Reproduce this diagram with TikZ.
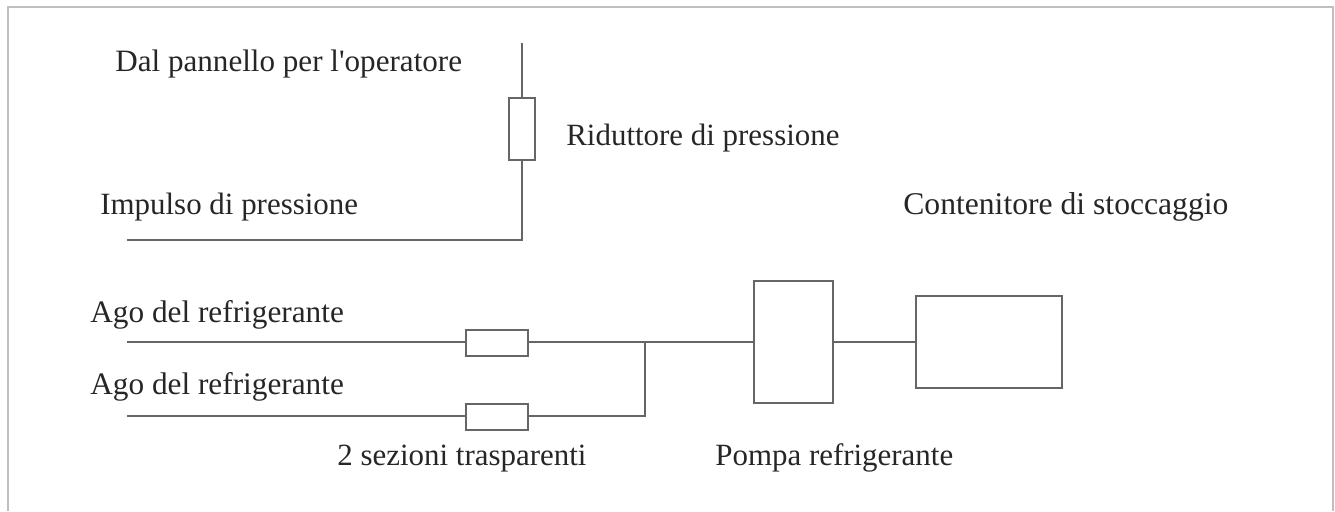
\documentclass[tikz,border=0pt]{standalone}
\usepackage{fontspec}
\setmainfont{Liberation Serif}
\usetikzlibrary{calc,positioning}
\tikzset{
  coolBox/.style={draw=black!60, fill=white, line width=0.6pt, inner sep=0pt},
  coolLine/.style={draw=black!60, line width=0.6pt},
  coolLabel/.style={font=\fontsize{17.6}{20}\selectfont, text=black!85, inner sep=0pt, anchor=west},
  coolFrame/.style={draw=black!25, line width=1.2pt}
}
\begin{document}
\begin{tikzpicture}[x=0.2mm, y=-0.2mm]
      \useasboundingbox (0,0) rectangle (1335,511);
      \draw[coolFrame] (8,511) -- (8,7) -- (1333,7) -- (1333,511);
      % free ends of the lines
      \coordinate (panelIn) at (522,43);
      \coordinate (pulseIn) at (127,240);
      \coordinate (corner) at (522,240);
      \coordinate (needleA) at (127,342);
      \coordinate (needleB) at (127,416);
      \coordinate (join) at (645,342);
      \coordinate (joinLow) at (645,416);
      % boxes
      \node[coolBox, minimum width=5.2mm, minimum height=12.4mm] (reducer) at (522,129) {};
      \node[coolBox, minimum width=12.4mm, minimum height=5.2mm] (clearA) at (497,343) {};
      \node[coolBox, minimum width=12.4mm, minimum height=5.2mm] (clearB) at (497,417) {};
      \node[coolBox, minimum width=15.8mm, minimum height=24.4mm] (pump) at (793.5,342) {};
      \node[coolBox, minimum width=29.2mm, minimum height=18.4mm] (tank) at (989,342) {};
      % labels
      \node[coolLabel, font=\fontsize{17.7}{20}\selectfont] (panelText) at (115,64) {Dal pannello per l\textquotesingle operatore};
      \node[coolLabel] (reducerText) at (566,138) {Riduttore di pressione};
      \node[coolLabel] (pulseText) at (100,207) {Impulso di pressione};
      \node[coolLabel, font=\fontsize{18}{20}\selectfont] (tankText) at (903,207) {Contenitore di stoccaggio};
      \node[coolLabel, font=\fontsize{17.8}{20}\selectfont] (needleAText) at (90,315) {Ago del refrigerante};
      \node[coolLabel, font=\fontsize{17.8}{20}\selectfont] (needleBText) at (90,387) {Ago del refrigerante};
      \node[coolLabel] (clearText) at (337,458.5) {2 sezioni trasparenti};
      \node[coolLabel] (pumpText) at (715,458) {Pompa refrigerante};
      % lines
      \draw[coolLine] (panelIn) -- (reducer);
      \draw[coolLine] (reducer) -- (corner) -- (pulseIn);
      \draw[coolLine] (needleA) -- (needleA -| clearA.west);
      \draw[coolLine] (needleB) -- (needleB -| clearB.west);
      \draw[coolLine] (join -| clearA.east) -- (join);
      \draw[coolLine] (joinLow -| clearB.east) -- (joinLow) -- (join);
      \draw[coolLine] (join) -- (pump.west);
      \draw[coolLine] (pump) -- (tank);
    \end{tikzpicture}
\end{document}
